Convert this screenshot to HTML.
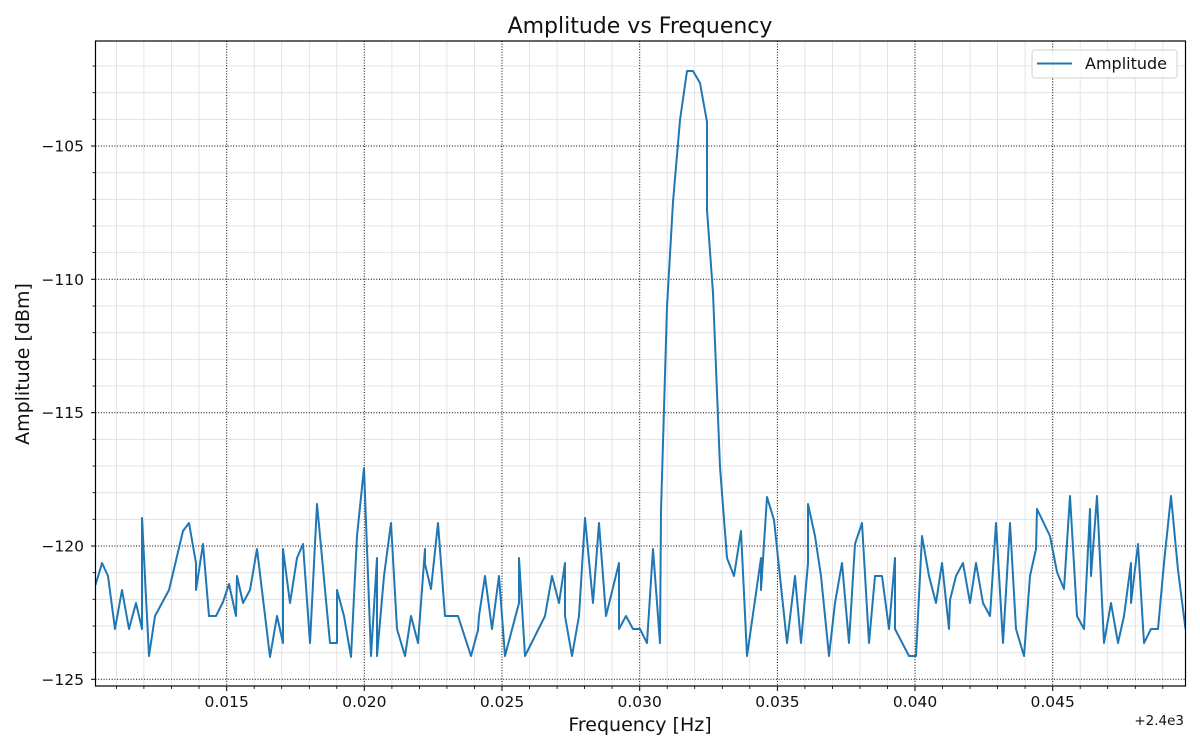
<!DOCTYPE html>
<html>
<head>
<meta charset="utf-8">
<style>
html,body{margin:0;padding:0;background:#fff;}
svg{display:block;font-family:"DejaVu Sans","Liberation Sans",sans-serif;}
</style>
</head>
<body>
<svg width="1200" height="750" viewBox="0 0 1200 750" xmlns="http://www.w3.org/2000/svg">
<rect width="1200" height="750" fill="#fff"/>
<defs><clipPath id="pc"><rect x="95.5" y="41" width="1090" height="645"/></clipPath></defs>
<!-- minor grid -->
<g stroke="#dedede" stroke-width="0.8">
<line x1="116.4" y1="41" x2="116.4" y2="686"/><line x1="143.9" y1="41" x2="143.9" y2="686"/><line x1="171.4" y1="41" x2="171.4" y2="686"/><line x1="199" y1="41" x2="199" y2="686"/>
<line x1="254.2" y1="41" x2="254.2" y2="686"/><line x1="281.7" y1="41" x2="281.7" y2="686"/><line x1="309.3" y1="41" x2="309.3" y2="686"/><line x1="336.8" y1="41" x2="336.8" y2="686"/>
<line x1="391.9" y1="41" x2="391.9" y2="686"/><line x1="419.4" y1="41" x2="419.4" y2="686"/><line x1="446.9" y1="41" x2="446.9" y2="686"/><line x1="474.5" y1="41" x2="474.5" y2="686"/>
<line x1="529.5" y1="41" x2="529.5" y2="686"/><line x1="557.1" y1="41" x2="557.1" y2="686"/><line x1="584.6" y1="41" x2="584.6" y2="686"/><line x1="612.1" y1="41" x2="612.1" y2="686"/>
<line x1="667.2" y1="41" x2="667.2" y2="686"/><line x1="694.7" y1="41" x2="694.7" y2="686"/><line x1="722.3" y1="41" x2="722.3" y2="686"/><line x1="749.8" y1="41" x2="749.8" y2="686"/>
<line x1="804.9" y1="41" x2="804.9" y2="686"/><line x1="832.4" y1="41" x2="832.4" y2="686"/><line x1="859.9" y1="41" x2="859.9" y2="686"/><line x1="887.5" y1="41" x2="887.5" y2="686"/>
<line x1="942.5" y1="41" x2="942.5" y2="686"/><line x1="970.1" y1="41" x2="970.1" y2="686"/><line x1="997.6" y1="41" x2="997.6" y2="686"/><line x1="1025.1" y1="41" x2="1025.1" y2="686"/>
<line x1="1080.2" y1="41" x2="1080.2" y2="686"/><line x1="1107.7" y1="41" x2="1107.7" y2="686"/><line x1="1135.3" y1="41" x2="1135.3" y2="686"/><line x1="1162.8" y1="41" x2="1162.8" y2="686"/>
<line x1="95.5" y1="66" x2="1185.5" y2="66"/><line x1="95.5" y1="92.7" x2="1185.5" y2="92.7"/><line x1="95.5" y1="119.3" x2="1185.5" y2="119.3"/>
<line x1="95.5" y1="172.7" x2="1185.5" y2="172.7"/><line x1="95.5" y1="199.3" x2="1185.5" y2="199.3"/><line x1="95.5" y1="226" x2="1185.5" y2="226"/><line x1="95.5" y1="252.6" x2="1185.5" y2="252.6"/>
<line x1="95.5" y1="306" x2="1185.5" y2="306"/><line x1="95.5" y1="332.7" x2="1185.5" y2="332.7"/><line x1="95.5" y1="359.3" x2="1185.5" y2="359.3"/><line x1="95.5" y1="386" x2="1185.5" y2="386"/>
<line x1="95.5" y1="439.3" x2="1185.5" y2="439.3"/><line x1="95.5" y1="466" x2="1185.5" y2="466"/><line x1="95.5" y1="492.7" x2="1185.5" y2="492.7"/><line x1="95.5" y1="519.3" x2="1185.5" y2="519.3"/>
<line x1="95.5" y1="572.7" x2="1185.5" y2="572.7"/><line x1="95.5" y1="599.3" x2="1185.5" y2="599.3"/><line x1="95.5" y1="626" x2="1185.5" y2="626"/><line x1="95.5" y1="652.7" x2="1185.5" y2="652.7"/>
</g>
<!-- major grid -->
<g stroke="#000" stroke-width="1" stroke-dasharray="1,1.7">
<line x1="226.7" y1="41" x2="226.7" y2="686"/><line x1="364.3" y1="41" x2="364.3" y2="686"/><line x1="502" y1="41" x2="502" y2="686"/><line x1="639.7" y1="41" x2="639.7" y2="686"/><line x1="777.4" y1="41" x2="777.4" y2="686"/><line x1="915" y1="41" x2="915" y2="686"/><line x1="1052.7" y1="41" x2="1052.7" y2="686"/>
<line x1="95.5" y1="146" x2="1185.5" y2="146"/><line x1="95.5" y1="279.3" x2="1185.5" y2="279.3"/><line x1="95.5" y1="412.7" x2="1185.5" y2="412.7"/><line x1="95.5" y1="546" x2="1185.5" y2="546"/><line x1="95.5" y1="679.3" x2="1185.5" y2="679.3"/>
</g>
<!-- data -->
<polyline clip-path="url(#pc)" fill="none" stroke="#1f77b4" stroke-width="2" stroke-linejoin="round" points="95.5,585 102,563 108,576 115,629 122,590 129,629 136,603 142,629 142,518 149,656 155,616 169,590 183,531 189,523 196,563 196,590 203,544 209,616 216,616 223,602 229,584 236,616 237,576 243,603 250,590 257,549 270,657 277,616 283,643 283,549 290,603 297,558 303,544 310,643 317,504 330,643 337,643 337,590 344,616 351,657 357,536 364,468 371,656 377,558 377,656 384,576 391,523 397,629 405,656 411,616 418,643 425,549 425,564 431,589 438,523 445,616 458,616 471,656 478,630 479,616 485,576 492,629 499,576 505,656 519,603 519,558 525,656 545,616 552,576 559,603 565,563 565,616 572,656 579,616 585,518 593,603 599,523 606,616 619,563 619,629 626,616 633,629 640,629 647,643 653,549 660,643 661,511 667,307 673,202 680,120 687,71 693,71 700,83 707,122 707,210 713,293 720,467 727,558 734,576 741,531 747,656 761,558 761,590 767,497 774,520 787,643 795,576 801,643 808,563 808,504 815,536 821,576 829,656 835,603 842,563 849,643 855,544 862,523 869,643 875,576 882,576 889,629 895,558 895,629 909,656 916,656 922,536 929,576 936,603 942,563 949,629 950,600 956,576 963,563 970,603 976,563 983,603 990,616 996,523 1003,643 1010,523 1016,629 1024,656 1030,576 1036,549 1037,509 1050,536 1057,572 1064,589 1070,496 1077,616 1084,629 1090,509 1091,576 1097,496 1104,643 1111,603 1118,643 1124,616 1131,563 1131,603 1138,544 1144,643 1151,629 1158,629 1164,563 1171,496 1178,570 1185.5,629"/>
<!-- axes frame -->
<rect x="95.5" y="41" width="1090" height="645" fill="none" stroke="#000" stroke-width="1.2"/>
<!-- ticks -->
<g stroke="#000" stroke-width="1">
<line x1="226.7" y1="686" x2="226.7" y2="691"/><line x1="364.3" y1="686" x2="364.3" y2="691"/><line x1="502" y1="686" x2="502" y2="691"/><line x1="639.7" y1="686" x2="639.7" y2="691"/><line x1="777.4" y1="686" x2="777.4" y2="691"/><line x1="915" y1="686" x2="915" y2="691"/><line x1="1052.7" y1="686" x2="1052.7" y2="691"/>
<line x1="91" y1="146" x2="95.5" y2="146"/><line x1="91" y1="279.3" x2="95.5" y2="279.3"/><line x1="91" y1="412.7" x2="95.5" y2="412.7"/><line x1="91" y1="546" x2="95.5" y2="546"/><line x1="91" y1="679.3" x2="95.5" y2="679.3"/>
</g>
<g stroke="#000" stroke-width="0.8">
<line x1="116.4" y1="686" x2="116.4" y2="689"/><line x1="143.9" y1="686" x2="143.9" y2="689"/><line x1="171.4" y1="686" x2="171.4" y2="689"/><line x1="199" y1="686" x2="199" y2="689"/>
<line x1="254.2" y1="686" x2="254.2" y2="689"/><line x1="281.7" y1="686" x2="281.7" y2="689"/><line x1="309.3" y1="686" x2="309.3" y2="689"/><line x1="336.8" y1="686" x2="336.8" y2="689"/>
<line x1="391.9" y1="686" x2="391.9" y2="689"/><line x1="419.4" y1="686" x2="419.4" y2="689"/><line x1="446.9" y1="686" x2="446.9" y2="689"/><line x1="474.5" y1="686" x2="474.5" y2="689"/>
<line x1="529.5" y1="686" x2="529.5" y2="689"/><line x1="557.1" y1="686" x2="557.1" y2="689"/><line x1="584.6" y1="686" x2="584.6" y2="689"/><line x1="612.1" y1="686" x2="612.1" y2="689"/>
<line x1="667.2" y1="686" x2="667.2" y2="689"/><line x1="694.7" y1="686" x2="694.7" y2="689"/><line x1="722.3" y1="686" x2="722.3" y2="689"/><line x1="749.8" y1="686" x2="749.8" y2="689"/>
<line x1="804.9" y1="686" x2="804.9" y2="689"/><line x1="832.4" y1="686" x2="832.4" y2="689"/><line x1="859.9" y1="686" x2="859.9" y2="689"/><line x1="887.5" y1="686" x2="887.5" y2="689"/>
<line x1="942.5" y1="686" x2="942.5" y2="689"/><line x1="970.1" y1="686" x2="970.1" y2="689"/><line x1="997.6" y1="686" x2="997.6" y2="689"/><line x1="1025.1" y1="686" x2="1025.1" y2="689"/>
<line x1="1080.2" y1="686" x2="1080.2" y2="689"/><line x1="1107.7" y1="686" x2="1107.7" y2="689"/><line x1="1135.3" y1="686" x2="1135.3" y2="689"/><line x1="1162.8" y1="686" x2="1162.8" y2="689"/>
<line x1="92.5" y1="66" x2="95.5" y2="66"/><line x1="92.5" y1="92.7" x2="95.5" y2="92.7"/><line x1="92.5" y1="119.3" x2="95.5" y2="119.3"/>
<line x1="92.5" y1="172.7" x2="95.5" y2="172.7"/><line x1="92.5" y1="199.3" x2="95.5" y2="199.3"/><line x1="92.5" y1="226" x2="95.5" y2="226"/><line x1="92.5" y1="252.6" x2="95.5" y2="252.6"/>
<line x1="92.5" y1="306" x2="95.5" y2="306"/><line x1="92.5" y1="332.7" x2="95.5" y2="332.7"/><line x1="92.5" y1="359.3" x2="95.5" y2="359.3"/><line x1="92.5" y1="386" x2="95.5" y2="386"/>
<line x1="92.5" y1="439.3" x2="95.5" y2="439.3"/><line x1="92.5" y1="466" x2="95.5" y2="466"/><line x1="92.5" y1="492.7" x2="95.5" y2="492.7"/><line x1="92.5" y1="519.3" x2="95.5" y2="519.3"/>
<line x1="92.5" y1="572.7" x2="95.5" y2="572.7"/><line x1="92.5" y1="599.3" x2="95.5" y2="599.3"/><line x1="92.5" y1="626" x2="95.5" y2="626"/><line x1="92.5" y1="652.7" x2="95.5" y2="652.7"/>
</g>
<!-- tick labels -->
<g font-size="15.5" fill="#111" text-anchor="middle">
<text x="226.7" y="707">0.015</text><text x="364.3" y="707">0.020</text><text x="502" y="707">0.025</text><text x="639.7" y="707">0.030</text><text x="777.4" y="707">0.035</text><text x="915" y="707">0.040</text><text x="1052.7" y="707">0.045</text>
</g>
<g font-size="15.5" fill="#111" text-anchor="end">
<text x="84" y="151.5">−105</text><text x="84" y="284.8">−110</text><text x="84" y="418.2">−115</text><text x="84" y="551.5">−120</text><text x="84" y="684.8">−125</text>
</g>
<text x="1184" y="725" font-size="13.5" fill="#111" text-anchor="end">+2.4e3</text>
<!-- labels -->
<text x="640" y="33" font-size="22" fill="#111" text-anchor="middle">Amplitude vs Frequency</text>
<text x="640" y="731" font-size="19" fill="#111" text-anchor="middle">Frequency [Hz]</text>
<text transform="translate(29,364) rotate(-90)" font-size="19" fill="#111" text-anchor="middle">Amplitude [dBm]</text>
<!-- legend -->
<rect x="1032" y="50" width="145" height="28" rx="3" ry="3" fill="#fff" fill-opacity="0.85" stroke="#d0d0d0" stroke-width="1"/>
<line x1="1037" y1="63.5" x2="1072" y2="63.5" stroke="#1f77b4" stroke-width="2"/>
<text x="1085" y="69" font-size="16" fill="#111">Amplitude</text>
</svg>
</body>
</html>
